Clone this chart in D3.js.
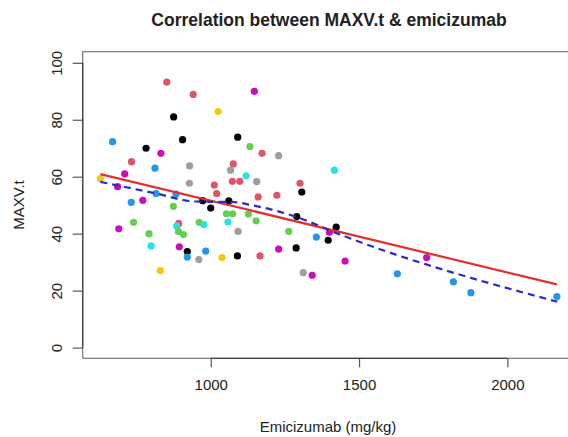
<!DOCTYPE html>
<html>
<head>
<meta charset="utf-8">
<script src="https://cdn.jsdelivr.net/npm/d3@7"></script>
<style>
  body { margin: 0; background: #fff; }
  text { font-family: "Liberation Sans", Arial, sans-serif; fill: #222; }
</style>
</head>
<body>
<svg id="chart" width="568" height="437"></svg>
<script>
// values
var dose = [852,941,875,1025,669,905,782,832,733,812,
  929,710,928,628,686,1147,1091,1132,1173,1229,
  1076,1067,1119,1155,1073,1098,1012,1301,1417,1307,
  1020,1160,1223,816,883,732,771,973,1000,874,
  1061,1053,1074,1127,1153,1058,1092,1290,1263,1423,
  1400,1356,1396,1453,1312,1342,1629,1728,1818,1877,
  2167,740,690,892,885,961,977,792,891,908,
  799,894,921,983,921,960,830,1038,1090,1166,
  1229,1288];
var maxv = [93.2,88.9,81.0,82.9,72.3,73.0,70.0,68.2,65.3,63.0,
  63.8,61.0,57.7,59.3,56.5,90.0,73.9,70.6,68.2,67.4,
  64.5,62.3,60.3,58.3,58.4,58.4,57.1,57.7,62.3,54.6,
  54.1,52.9,53.5,54.1,53.9,51.0,51.7,51.6,49.0,49.6,
  51.5,47.0,47.0,46.9,44.5,44.1,40.8,46.0,40.8,42.3,
  40.5,38.8,37.7,30.4,26.3,25.4,25.9,31.6,23.1,19.3,
  17.9,44.0,41.7,43.6,42.7,44.0,43.2,40.0,40.8,39.7,
  35.7,35.4,33.7,33.9,31.8,30.9,27.0,31.6,32.2,32.2,
  34.6,35.0];
var group = ["red","red","black","yellow","blue","black","black","magenta","red","blue",
  "gray","magenta","gray","yellow","magenta","magenta","black","green","red","gray",
  "red","gray","cyan","gray","red","red","red","red","cyan","black",
  "red","red","red","blue","blue","blue","magenta","black","black","green",
  "black","green","green","green","green","cyan","gray","black","green","black",
  "magenta","blue","black","magenta","gray","magenta","blue","magenta","blue","blue",
  "blue","green","magenta","red","cyan","green","cyan","green","green","green",
  "cyan","magenta","black","blue","blue","gray","yellow","yellow","black","red",
  "magenta","black"];

// linear fit (red) and smooth fit (blue dashed)
var fitX = [628, 2167];
var fitY = [60.9, 22.2];
var smoothX = [628, 812, 947, 998, 1065, 1143, 1291, 1426, 2168];
var smoothY = [58.2, 54.2, 51.3, 51.2, 51.2, 49.9, 45.8, 40.1, 16.1];

var xTicks = [1000, 1500, 2000];
var yTicks = [0, 20, 40, 60, 80, 100];

var palette = {
  black: "#000000", red: "#DF536B", green: "#61D04F", blue: "#2297E6",
  cyan: "#28E2E5", magenta: "#CD0BBC", yellow: "#F5C710", gray: "#9E9E9E"
};

// plot region (box runs past the right edge of the picture)
var plotL = 82.7, plotR = 575, plotT = 51.7, plotB = 358.3;

var svg = d3.select("#chart");

var x = d3.scaleLinear().domain([568.4, 2228]).range([plotL, plotR]);
var y = d3.scaleLinear().domain([-3.76, 103.9]).range([plotB, plotT]);

// plot box
svg.append("rect")
  .attr("x", plotL).attr("y", plotT)
  .attr("width", plotR - plotL).attr("height", plotB - plotT)
  .attr("fill", "none").attr("stroke", "#777").attr("stroke-width", 1.2);

// axes
var xAxis = svg.append("g")
  .attr("transform", "translate(0," + plotB + ")")
  .call(d3.axisBottom(x).tickValues(xTicks).tickSize(9).tickPadding(12).tickFormat(d3.format("d")));
var yAxis = svg.append("g")
  .attr("transform", "translate(" + plotL + ",0)")
  .call(d3.axisLeft(y).tickValues(yTicks).tickSize(10).tickPadding(0).tickFormat(d3.format("d")));

[xAxis, yAxis].forEach(function (g) {
  g.select(".domain").remove();
  g.selectAll("line").attr("stroke", "#555").attr("stroke-width", 1.2);
  g.selectAll("text").attr("font-size", "15px").attr("fill", "#222")
    .style("font-family", "'Liberation Sans', Arial, sans-serif");
});

// axis lines only span the ticks, like base R
svg.append("line")
  .attr("x1", x(xTicks[0])).attr("x2", x(xTicks[xTicks.length - 1]))
  .attr("y1", plotB).attr("y2", plotB)
  .attr("stroke", "#444").attr("stroke-width", 1.3);
svg.append("line")
  .attr("x1", plotL).attr("x2", plotL)
  .attr("y1", y(yTicks[0])).attr("y2", y(yTicks[yTicks.length - 1]))
  .attr("stroke", "#444").attr("stroke-width", 1.3);

// rotated y tick labels
yAxis.selectAll(".tick text")
  .attr("x", 0).attr("dy", null)
  .attr("text-anchor", "middle")
  .attr("transform", "translate(-26,0) rotate(-90)")
  .attr("dominant-baseline", "central");

// points
svg.append("g")
  .selectAll("circle")
  .data(dose.map(function (d, i) { return { x: d, y: maxv[i], g: group[i] }; }))
  .enter()
  .append("circle")
  .attr("cx", function (d) { return x(d.x); })
  .attr("cy", function (d) { return y(d.y); })
  .attr("r", 3.6)
  .attr("fill", function (d) { return palette[d.g]; });

// fitted lines
var line = d3.line().x(function (d) { return x(d[0]); }).y(function (d) { return y(d[1]); });

svg.append("path")
  .attr("d", line(fitX.map(function (d, i) { return [d, fitY[i]]; })))
  .attr("fill", "none").attr("stroke", "#e2302a").attr("stroke-width", 2.2);

svg.append("path")
  .attr("d", d3.line().curve(d3.curveMonotoneX)
    .x(function (d) { return x(d[0]); }).y(function (d) { return y(d[1]); })
    (smoothX.map(function (d, i) { return [d, smoothY[i]]; })))
  .attr("fill", "none").attr("stroke", "#2b2bc8").attr("stroke-width", 2.2)
  .attr("stroke-dasharray", "7,5");

// titles
svg.append("text")
  .attr("x", 329).attr("y", 26)
  .attr("text-anchor", "middle")
  .attr("font-size", "17.5px").attr("font-weight", "bold")
  .text("Correlation between MAXV.t & emicizumab");

svg.append("text")
  .attr("x", 328).attr("y", 432)
  .attr("text-anchor", "middle")
  .attr("font-size", "15px")
  .text("Emicizumab (mg/kg)");

svg.append("text")
  .attr("transform", "translate(24," + (plotT + plotB) / 2 + ") rotate(-90)")
  .attr("text-anchor", "middle")
  .attr("font-size", "15px")
  .text("MAXV.t");
</script>
</body>
</html>
